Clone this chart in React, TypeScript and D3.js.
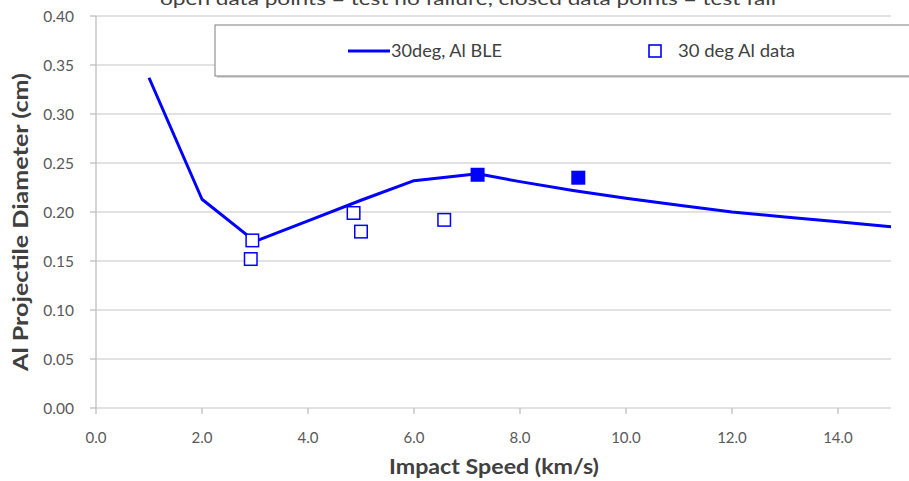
import React from "react";
import * as d3 from "d3";

const lineX = [1, 2, 3, 4, 5, 6, 7.2, 8, 9, 10, 11, 12, 13, 14, 15];
const lineY = [0.337, 0.213, 0.170, 0.191, 0.212, 0.232, 0.239, 0.231, 0.222, 0.214, 0.207, 0.200, 0.195, 0.190, 0.185];

const openX = [2.95, 2.92, 4.86, 5.0, 6.57];
const openY = [0.171, 0.152, 0.199, 0.180, 0.192];
const closedX = [7.2, 9.1];
const closedY = [0.238, 0.235];

const xTicks = [0, 2, 4, 6, 8, 10, 12, 14];
const yTicks = [0, 0.05, 0.1, 0.15, 0.2, 0.25, 0.3, 0.35, 0.4];

const titleText = "open data points = test no failure, closed data points = test fail";
const lineLabel = "30deg, Al BLE";
const markerLabel = "30 deg Al data";
const xTitle = "Impact Speed (km/s)";
const yTitle = "Al Projectile Diameter (cm)";

const W = 909, H = 481;
const FONT = "Lato, 'Open Sans', sans-serif";
const BLUE = "#0000ff";

export default function App() {
  const x = d3.scaleLinear().domain([0, 15]).range([96, 891]);
  const y = d3.scaleLinear().domain([0, 0.4]).range([408, 16]);
  const line = d3.line<number>().x((d, i) => x(lineX[i])).y((d) => y(d));
  const ms = 14;
  return (
    <svg width={W} height={H} style={{ position: "absolute", left: 0, top: 0, background: "#fff" }}>
      <rect width={W} height={H} fill="#fff" />
      {yTicks.map((t) => (
        <line key={"g" + t} x1={x(0)} x2={x(15)} y1={y(t)} y2={y(t)} stroke="#d9d9d9" strokeWidth={1.3} />
      ))}
      <line x1={x(0)} x2={x(0)} y1={y(0.4)} y2={y(0)} stroke="#bfbfbf" strokeWidth={1.3} />
      {yTicks.map((t) => (
        <g key={"yt" + t}>
          <line x1={x(0) - 6} x2={x(0)} y1={y(t)} y2={y(t)} stroke="#bfbfbf" strokeWidth={1.3} />
          <text x={74} y={y(t) + 5.5} textAnchor="end" fontFamily={FONT} fontSize={15.5} fill="#595959">
            {t.toFixed(2)}
          </text>
        </g>
      ))}
      {xTicks.map((t) => (
        <g key={"xt" + t}>
          <line x1={x(t)} x2={x(t)} y1={y(0)} y2={y(0) + 6} stroke="#bfbfbf" strokeWidth={1.3} />
          <text x={x(t)} y={443} textAnchor="middle" fontFamily={FONT} fontSize={15} fill="#595959">
            {t.toFixed(1)}
          </text>
        </g>
      ))}
      <path d={line(lineY) || ""} fill="none" stroke={BLUE} strokeWidth={3} strokeLinejoin="round" />
      {openX.map((v, i) => (
        <rect key={"o" + i} x={x(v) - ms / 2 + 0.75} y={y(openY[i]) - ms / 2 + 0.75} width={ms - 1.5} height={ms - 1.5}
          fill="#fff" stroke={BLUE} strokeWidth={1.5} />
      ))}
      {closedX.map((v, i) => (
        <rect key={"c" + i} x={x(v) - ms / 2 + 0.75} y={y(closedY[i]) - ms / 2 + 0.75} width={ms - 1.5} height={ms - 1.5}
          fill={BLUE} stroke={BLUE} strokeWidth={1.5} />
      ))}
      {/* legend */}
      <rect x={217} y={27} width={700} height={51} fill="#bfbfbf" opacity={0.6} />
      <rect x={215} y={25} width={700} height={51} fill="#fff" stroke="#7f7f7f" strokeWidth={1} />
      <line x1={348} x2={390} y1={51} y2={51} stroke={BLUE} strokeWidth={3} />
      <text x={391} y={57} fontFamily={FONT} fontSize={17} fill="#404040" textLength={111} lengthAdjust="spacingAndGlyphs">{lineLabel}</text>
      <rect x={649} y={45} width={12} height={12} fill="#fff" stroke={BLUE} strokeWidth={1.6} />
      <text x={678} y={57} fontFamily={FONT} fontSize={17} fill="#404040" textLength={117} lengthAdjust="spacingAndGlyphs">{markerLabel}</text>
      {/* title */}
      <text x={468} y={5} textAnchor="middle" fontFamily={FONT} fontSize={17} fill="#404040"
        textLength={616} lengthAdjust="spacingAndGlyphs">{titleText}</text>
      <text x={494} y={474} textAnchor="middle" fontFamily={FONT} fontSize={20} fontWeight="bold" fill="#404040"
        textLength={210} lengthAdjust="spacingAndGlyphs">{xTitle}</text>
      <text transform={`translate(28,222) rotate(-90)`} textAnchor="middle" fontFamily={FONT} fontSize={20} fontWeight="bold" fill="#404040"
        textLength={298} lengthAdjust="spacingAndGlyphs">{yTitle}</text>
    </svg>
  );
}
